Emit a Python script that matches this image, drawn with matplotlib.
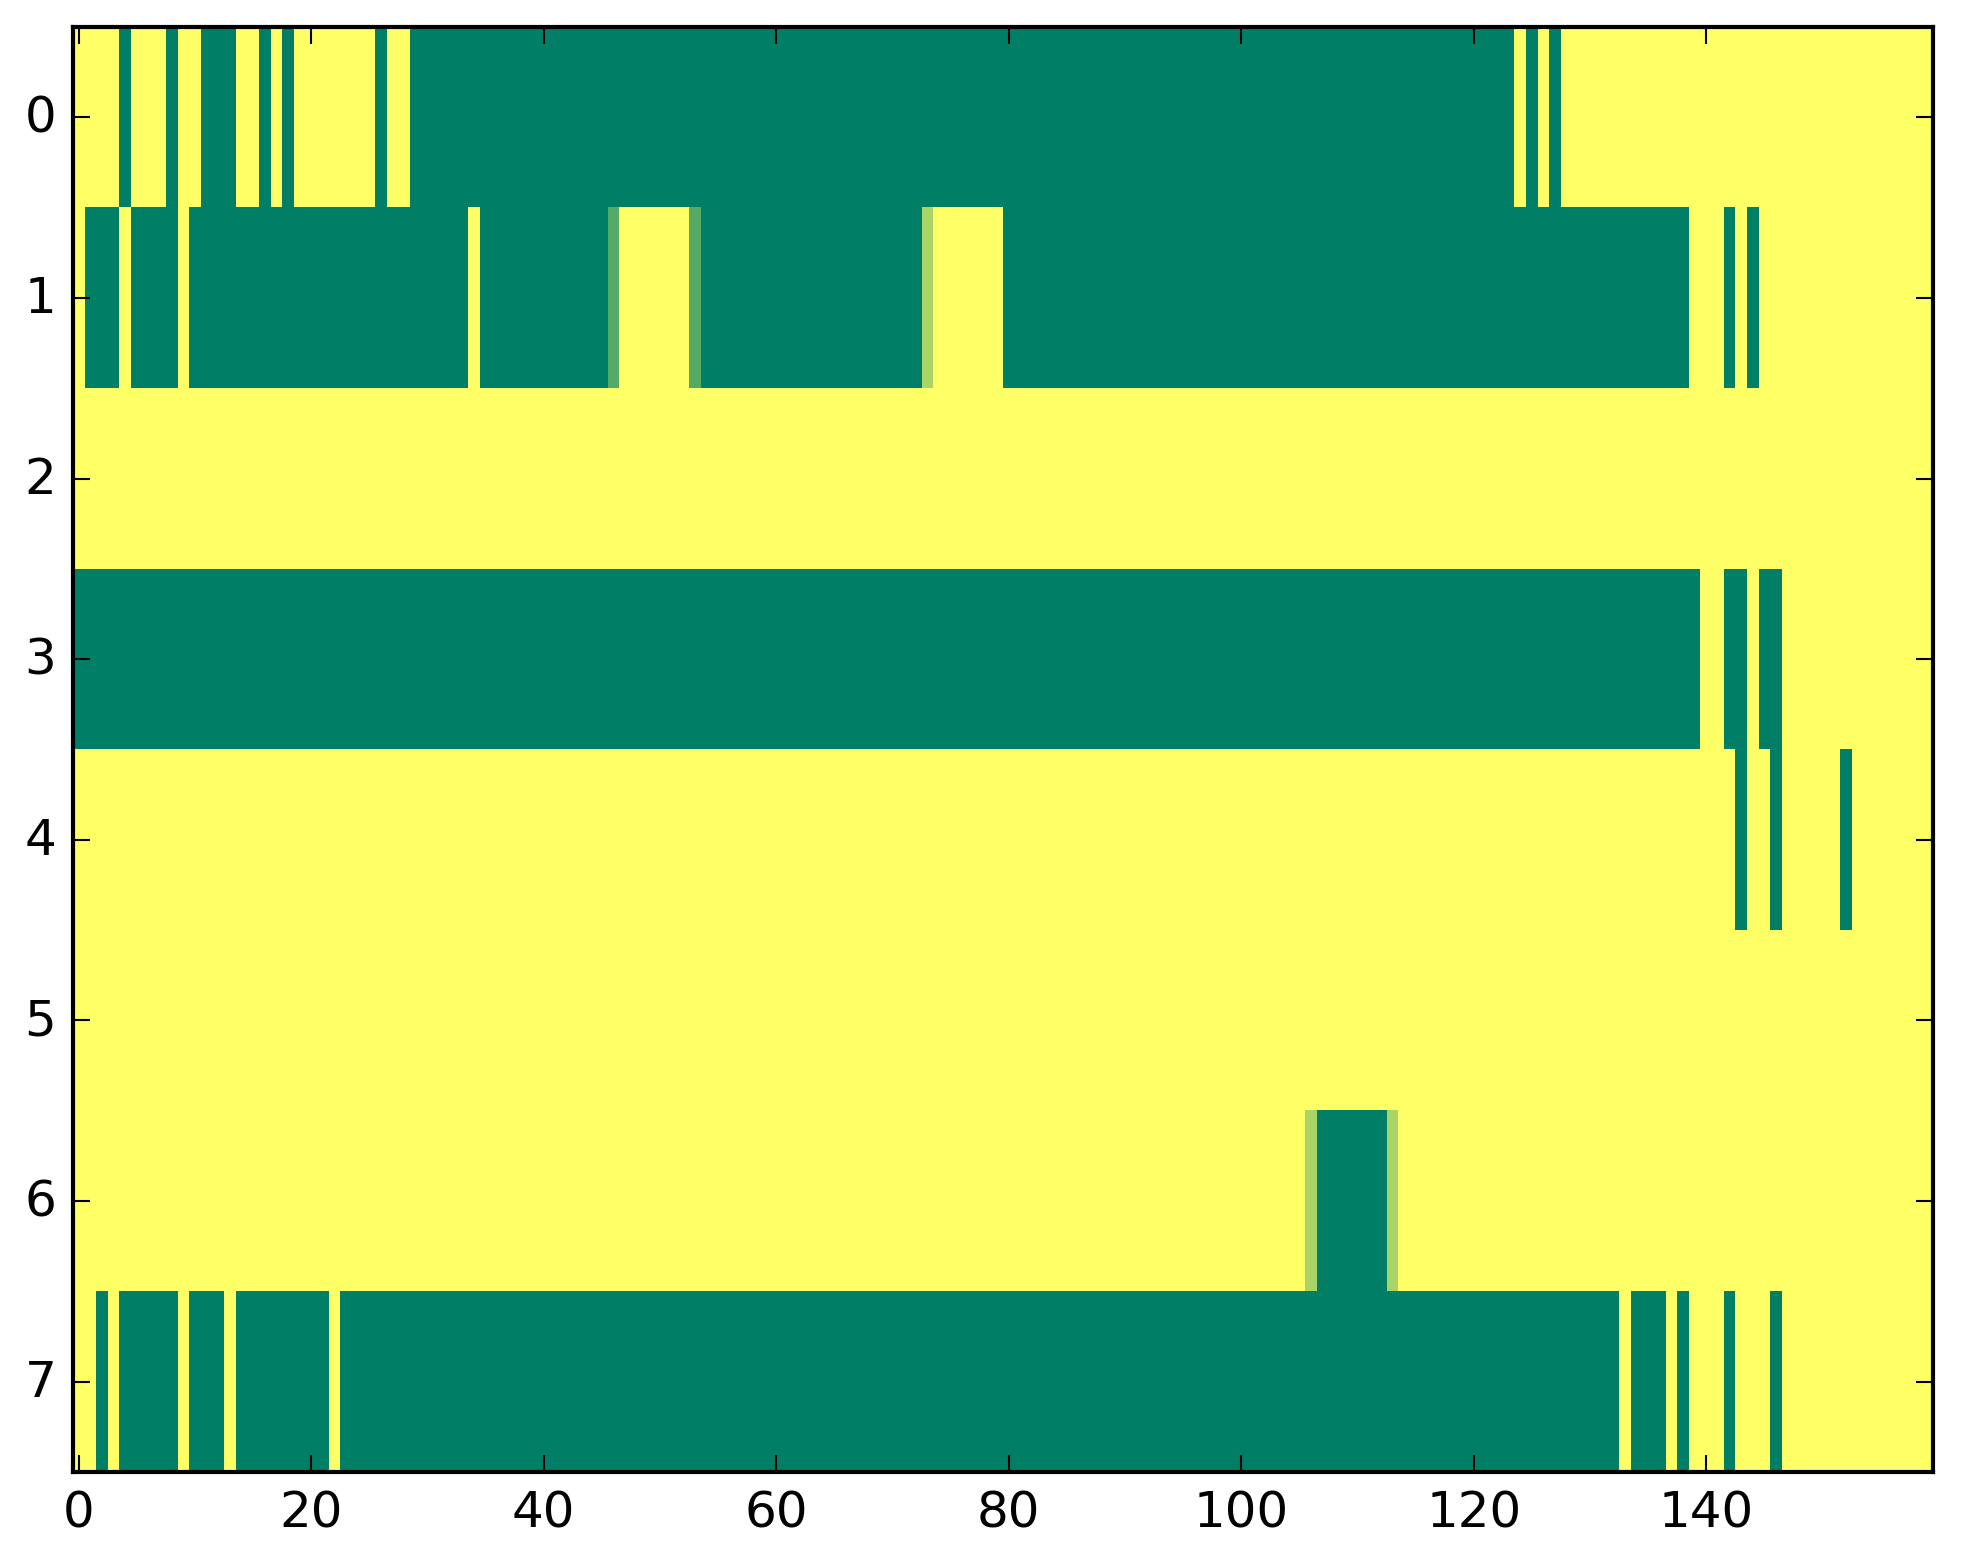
import numpy as np
import matplotlib
matplotlib.use("Agg")
import matplotlib.pyplot as plt

plt.style.use("classic")

# cell values, as (value, run length) along each row
row0 = [(1, 4), (0, 1), (1, 3), (0, 1), (1, 2), (0, 3), (1, 2), (0, 1), (1, 1),
        (0, 1), (1, 7), (0, 1), (1, 2), (0, 95), (1, 1), (0, 1), (1, 1), (0, 1),
        (1, 32)]
row1 = [(1, 1), (0, 3), (1, 1), (0, 4), (1, 1), (0, 24), (1, 1), (0, 11),
        (1 / 3, 1), (1, 6), (1 / 3, 1), (0, 19), (2 / 3, 1), (1, 6), (0, 59),
        (1, 3), (0, 1), (1, 1), (0, 1), (1, 15)]
row2 = [(1, 160)]
row3 = [(0, 140), (1, 2), (0, 2), (1, 1), (0, 2), (1, 13)]
row4 = [(1, 143), (0, 1), (1, 2), (0, 1), (1, 5), (0, 1), (1, 7)]
row5 = [(1, 160)]
row6 = [(1, 106), (2 / 3, 1), (0, 6), (2 / 3, 1), (1, 46)]
row7 = [(1, 2), (0, 1), (1, 1), (0, 5), (1, 1), (0, 3), (1, 1), (0, 8), (1, 1),
        (0, 110), (1, 1), (0, 3), (1, 1), (0, 1), (1, 3), (0, 1), (1, 3), (0, 1),
        (1, 13)]

rows = [row0, row1, row2, row3, row4, row5, row6, row7]


def expand(runs):
    vals = [v for v, n in runs]
    counts = [n for v, n in runs]
    return np.repeat(vals, counts)


grid = np.array([expand(r) for r in rows])

fig = plt.figure(figsize=(1963 / 300, 1564 / 300), dpi=300, facecolor="white")
ax = fig.add_axes([73 / 1963, 91 / 1564, 1860 / 1963, 1445 / 1564])
ax.imshow(grid, cmap="summer", vmin=0, vmax=1, interpolation="nearest",
          aspect="auto")

ax.set_xticks(np.arange(0, 141, 20))
ax.set_yticks(np.arange(0, 8))
ax.tick_params(direction="in", top=True, right=True, length=4, width=0.5,
               labelsize=12, pad=4)
for s in ax.spines.values():
    s.set_linewidth(1.0)

fig.savefig("out.png", dpi=300, facecolor="white")
